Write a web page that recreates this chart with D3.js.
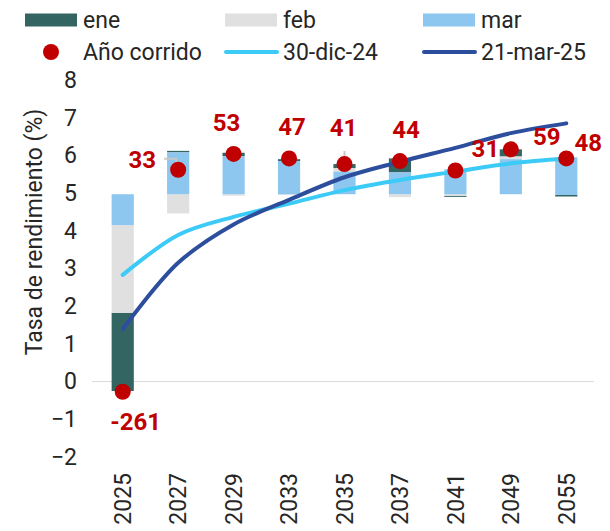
<!DOCTYPE html>
<html>
<head>
<meta charset="utf-8">
<script src="https://cdn.jsdelivr.net/npm/d3@7"></script>
<style>
  html, body { margin: 0; padding: 0; background: #fff; }
  svg { display: block; font-family: Roboto, "Noto Sans", sans-serif; }
</style>
</head>
<body>
<svg id="chart" width="610" height="531"></svg>
<script>
// ---- data ----
const categories = ["2025", "2027", "2029", "2033", "2035", "2037", "2041", "2049", "2055"];
// floating segments [low, high] in %
const eneRange = [[-0.25, 1.82], [6.08, 6.12], [5.98, 6.07], [5.85, 5.90], [5.66, 5.77], [5.55, 5.92], [4.90, 4.93], [5.97, 6.16], [4.91, 4.95]];
const febRange = [[1.82, 4.15], [4.46, 4.97], [4.93, 4.97], [4.95, 4.97], [5.57, 5.66], [4.89, 4.97], [4.93, 4.97], [5.90, 5.97], [4.95, 4.95]];
const marRange = [[4.15, 4.97], [4.97, 6.08], [4.97, 5.98], [4.97, 5.85], [4.97, 5.57], [4.97, 5.55], [4.97, 5.63], [4.97, 5.90], [4.95, 5.95]];
const anoCorrido = [-0.27, 5.62, 6.04, 5.92, 5.77, 5.85, 5.60, 6.16, 5.92];
const anoLabels = ["-261", "33", "53", "47", "41", "44", "31", "59", "48"];
const curveDic24 = [2.83, 3.89, 4.37, 4.72, 5.08, 5.35, 5.57, 5.79, 5.92];
const curveMar25 = [1.39, 3.15, 4.17, 4.82, 5.42, 5.83, 6.20, 6.59, 6.85];
const yTicks = [-2, -1, 0, 1, 2, 3, 4, 5, 6, 7, 8];

// ---- label placement (pixels, relative to dot) ----
const labelDx = [13, -36, -7, 3, -1, 6, 30, 36, 22];
const labelDy = [30, -10, -31, -31, -36, -31, -21, -12, -15];
const leaderType = ["", "side", "", "", "above", "", "", "", ""];

// ---- styles ----
const colEne = "#336663", colFeb = "#E0E0E0", colMar = "#8DC6EE";
const colDot = "#C00000", colDic = "#3CCBF6", colMarLine = "#2D4E9C";

const svg = d3.select("#chart");
const m = { left: 95, right: 594, top: 80, bottom: 457 };

const x = d3.scaleBand().domain(categories).range([m.left, m.right]).paddingInner(0.6).paddingOuter(0.3);
const y = d3.scaleLinear().domain([-2, 8]).range([m.bottom, m.top]);
const cx = c => x(c) + x.bandwidth() / 2;

// zero line
svg.append("line")
  .attr("x1", 92).attr("x2", m.right).attr("y1", y(0)).attr("y2", y(0))
  .attr("stroke", "#D9D9D9").attr("stroke-width", 1);

// y axis
const yAxis = svg.append("g").attr("transform", "translate(92,0)")
  .call(d3.axisLeft(y).tickValues(yTicks).tickSize(0).tickPadding(15).tickFormat(d3.format("d")));
yAxis.select(".domain").remove();
yAxis.selectAll("text").attr("font-size", 23).attr("fill", "#262626").attr("font-family", "Roboto");

// x axis
const xAxis = svg.append("g").attr("transform", `translate(0,${m.bottom})`)
  .call(d3.axisBottom(x).tickSize(0));
xAxis.select(".domain").remove();
xAxis.selectAll("text")
  .attr("transform", "rotate(-90)")
  .attr("text-anchor", "end")
  .attr("x", -16).attr("y", 0).attr("dy", "0.36em")
  .attr("font-size", 23).attr("fill", "#262626").attr("font-family", "Roboto");

// y title
svg.append("text")
  .attr("transform", "translate(42,232) rotate(-90)")
  .attr("text-anchor", "middle")
  .attr("font-size", 23).attr("fill", "#262626")
  .text("Tasa de rendimiento (%)");

// bars
const series = [
  { name: "ene", data: eneRange, color: colEne },
  { name: "feb", data: febRange, color: colFeb },
  { name: "mar", data: marRange, color: colMar }
];
series.forEach(s => {
  svg.append("g").selectAll("rect").data(s.data).join("rect")
    .attr("x", (d, i) => x(categories[i]))
    .attr("width", x.bandwidth())
    .attr("y", d => y(d[1]))
    .attr("height", d => Math.max(0, y(d[0]) - y(d[1])))
    .attr("fill", s.color);
});

// lines
const lineGen = d3.line().x((d, i) => cx(categories[i])).y(d => y(d)).curve(d3.curveCatmullRom.alpha(0.5));
svg.append("path").datum(curveDic24).attr("d", lineGen)
  .attr("fill", "none").attr("stroke", colDic).attr("stroke-width", 4).attr("stroke-linecap", "round");
svg.append("path").datum(curveMar25).attr("d", lineGen)
  .attr("fill", "none").attr("stroke", colMarLine).attr("stroke-width", 4).attr("stroke-linecap", "round");

// leader lines
anoCorrido.forEach((v, i) => {
  const px = cx(categories[i]), py = y(v);
  const lx = px + labelDx[i], ly = py + labelDy[i];
  let p = null;
  if (leaderType[i] === "side") p = `M${lx + 22},${ly - 1}H${px - 2}V${py}`;
  if (leaderType[i] === "above") p = `M${px},${ly + 23}V${py}`;
  if (p) svg.append("path").attr("d", p).attr("fill", "none").attr("stroke", "#C8C8C8").attr("stroke-width", 2);
});

// dots
svg.append("g").selectAll("circle").data(anoCorrido).join("circle")
  .attr("cx", (d, i) => cx(categories[i])).attr("cy", d => y(d)).attr("r", 8)
  .attr("fill", colDot);

// labels
svg.append("g").selectAll("text").data(anoCorrido).join("text")
  .attr("x", (d, i) => cx(categories[i]) + labelDx[i])
  .attr("y", (d, i) => y(d) + labelDy[i])
  .attr("text-anchor", "middle").attr("dominant-baseline", "central")
  .attr("font-size", 24).attr("font-weight", "bold").attr("fill", colDot)
  .text((d, i) => anoLabels[i]);

// legend
const legendItems = [
  { label: "ene", type: "rect", color: colEne, col: 0, row: 0 },
  { label: "feb", type: "rect", color: colFeb, col: 1, row: 0 },
  { label: "mar", type: "rect", color: colMar, col: 2, row: 0 },
  { label: "Año corrido", type: "dot", color: colDot, col: 0, row: 1 },
  { label: "30-dic-24", type: "line", color: colDic, col: 1, row: 1 },
  { label: "21-mar-25", type: "line", color: colMarLine, col: 2, row: 1 }
];
const colX = [25, 225, 423], rowY = [20, 52];
const lg = svg.append("g");
legendItems.forEach(it => {
  const x0 = colX[it.col], yc = rowY[it.row];
  if (it.type === "rect") lg.append("rect").attr("x", x0).attr("y", yc - 6.5).attr("width", 52).attr("height", 13).attr("fill", it.color);
  if (it.type === "dot") lg.append("circle").attr("cx", x0 + 26).attr("cy", yc).attr("r", 8).attr("fill", it.color);
  if (it.type === "line") lg.append("line").attr("x1", x0 + 1).attr("x2", x0 + 52).attr("y1", yc).attr("y2", yc)
    .attr("stroke", it.color).attr("stroke-width", 4).attr("stroke-linecap", "round");
  lg.append("text").attr("x", x0 + 58).attr("y", yc).attr("dominant-baseline", "central")
    .attr("font-size", 23).attr("fill", "#262626").text(it.label);
});
</script>
</body>
</html>
